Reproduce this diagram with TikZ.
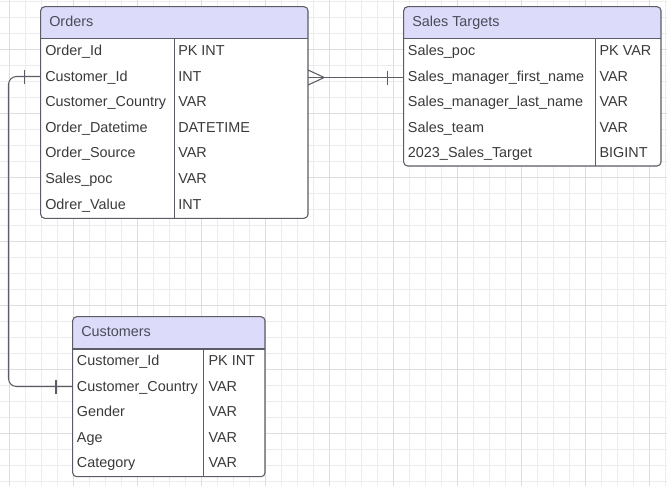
\documentclass[tikz,border=0pt]{standalone}
\usepackage{fontspec}
\setmainfont{Liberation Sans}
\usepackage{tikz}
\usepackage{xcolor}
\definecolor{hdrfill}{HTML}{DCDCFA}
\definecolor{boxline}{HTML}{5C5C66}
\definecolor{txt}{HTML}{3A3A3A}
\definecolor{hdrtxt}{HTML}{4A4A58}
\definecolor{gridmin}{HTML}{ECECEC}
\definecolor{gridmaj}{HTML}{DDDDDD}
\tikzset{
  field/.style={anchor=base west, inner sep=0pt, text=txt, font=\fontsize{10.8}{13}\selectfont},
  title/.style={anchor=base west, inner sep=0pt, text=hdrtxt, font=\fontsize{10.8}{13}\selectfont},
  link/.style={boxline, line width=0.8pt}
}

\begin{document}
\begin{tikzpicture}[x=0.75pt, y=-0.75pt]
            \useasboundingbox (0,0) rectangle (667,486);
            \fill[white] (0,0) rectangle (667,486);
            % grid paper
            \foreach \gx in {9.3,25.3,...,666}
                \draw[gridmin, line width=0.6pt] (\gx,0) -- (\gx,486);
            \foreach \gy in {1.3,17.3,...,486}
                \draw[gridmin, line width=0.6pt] (0,\gy) -- (667,\gy);
            \foreach \gx in {9.3,73.3,...,666}
                \draw[gridmaj, line width=0.7pt] (\gx,0) -- (\gx,486);
            \foreach \gy in {49.3,113.3,...,486}
                \draw[gridmaj, line width=0.7pt] (0,\gy) -- (667,\gy);

            % Orders
            \fill[white, rounded corners=3pt] (40.7,6.7) rectangle (308,218.3);
            \fill[hdrfill, rounded corners=3pt] (40.7,6.7) rectangle (308,38.7);
            \fill[hdrfill] (40.7,28) rectangle (308,38.7);
            \draw[boxline, line width=0.8pt, rounded corners=3pt] (40.7,6.7) rectangle (308,218.3);
            \draw[boxline, line width=0.8pt] (40.7,38.7) -- (308,38.7);
            \draw[boxline, line width=0.8pt] (174.3,38.7) -- (174.3,218.3);
            \node[title] (ordT) at (49,26.3){Orders};
            \node[field] (ord1) at (45,55.5){Order\_Id};
            \node[field] (ord2) at (45,81.1){Customer\_Id};
            \node[field] (ord3) at (45,106.7){Customer\_Country};
            \node[field] (ord4) at (45,132.3){Order\_Datetime};
            \node[field] (ord5) at (45,157.9){Order\_Source};
            \node[field] (ord6) at (45,183.5){Sales\_poc};
            \node[field] (ord7) at (45,209.1){Odrer\_Value};
            \node[field] (ordt1) at (178,55.5){PK INT};
            \node[field] (ordt2) at (178,81.1){INT};
            \node[field] (ordt3) at (178,106.7){VAR};
            \node[field] (ordt4) at (178,132.3){DATETIME};
            \node[field] (ordt5) at (178,157.9){VAR};
            \node[field] (ordt6) at (178,183.5){VAR};
            \node[field] (ordt7) at (178,209.1){INT};

            % Sales Targets
            \fill[white, rounded corners=3pt] (403.7,6.7) rectangle (661,166);
            \fill[hdrfill, rounded corners=3pt] (403.7,6.7) rectangle (661,38.7);
            \fill[hdrfill] (403.7,28) rectangle (661,38.7);
            \draw[boxline, line width=0.8pt, rounded corners=3pt] (403.7,6.7) rectangle (661,166);
            \draw[boxline, line width=0.8pt] (403.7,38.7) -- (661,38.7);
            \draw[boxline, line width=0.8pt] (595.3,38.7) -- (595.3,166);
            \node[title] (salT) at (412,26.3){Sales Targets};
            \node[field] (sal1) at (407.7,55.5){Sales\_poc};
            \node[field] (sal2) at (407.7,81.1){Sales\_manager\_first\_name};
            \node[field] (sal3) at (407.7,106.7){Sales\_manager\_last\_name};
            \node[field] (sal4) at (407.7,132.3){Sales\_team};
            \node[field] (sal5) at (407.7,157.9){2023\_Sales\_Target};
            \node[field] (salt1) at (599.3,55.5){PK VAR};
            \node[field] (salt2) at (599.3,81.1){VAR};
            \node[field] (salt3) at (599.3,106.7){VAR};
            \node[field] (salt4) at (599.3,132.3){VAR};
            \node[field] (salt5) at (599.3,157.9){BIGINT};

            % Customers
            \fill[white, rounded corners=3pt] (72.7,316.7) rectangle (265,476.7);
            \fill[hdrfill, rounded corners=3pt] (72.7,316.7) rectangle (265,349);
            \fill[hdrfill] (72.7,338) rectangle (265,349);
            \draw[boxline, line width=0.8pt, rounded corners=3pt] (72.7,316.7) rectangle (265,476.7);
            \draw[boxline, line width=0.8pt] (72.7,349) -- (265,349);
            \draw[boxline, line width=0.8pt] (203.3,349) -- (203.3,476.7);
            \node[title] (cusT) at (81,336.3){Customers};
            \node[field] (cus1) at (76.7,365.5){Customer\_Id};
            \node[field] (cus2) at (76.7,391.1){Customer\_Country};
            \node[field] (cus3) at (76.7,416.7){Gender};
            \node[field] (cus4) at (76.7,442.3){Age};
            \node[field] (cus5) at (76.7,467.9){Category};
            \node[field] (cust1) at (208.3,365.5){PK INT};
            \node[field] (cust2) at (208.3,391.1){VAR};
            \node[field] (cust3) at (208.3,416.7){VAR};
            \node[field] (cust4) at (208.3,442.3){VAR};
            \node[field] (cust5) at (208.3,467.9){VAR};

            % connectors
            \coordinate (P) at (40.7,76.5);
            \coordinate (Q) at (72.7,386.5);
            \coordinate (R) at (308,77.5);
            \coordinate (S) at (403.7,77.5);
            \draw[link, rounded corners=6pt] (P) -- (8.5,76.5) -- (8.5,386.5) -- (Q);
            \draw[link] (24.3,69.5) -- (24.3,83.5);
            \draw[link] (56,379.5) -- (56,393.5);
            \draw[link] (R) -- (S);
            \draw[link] (308,70) -- (324.3,77.5) -- (308,85);
            \draw[link] (387.3,70.5) -- (387.3,84.5);
		\end{tikzpicture}
\end{document}
